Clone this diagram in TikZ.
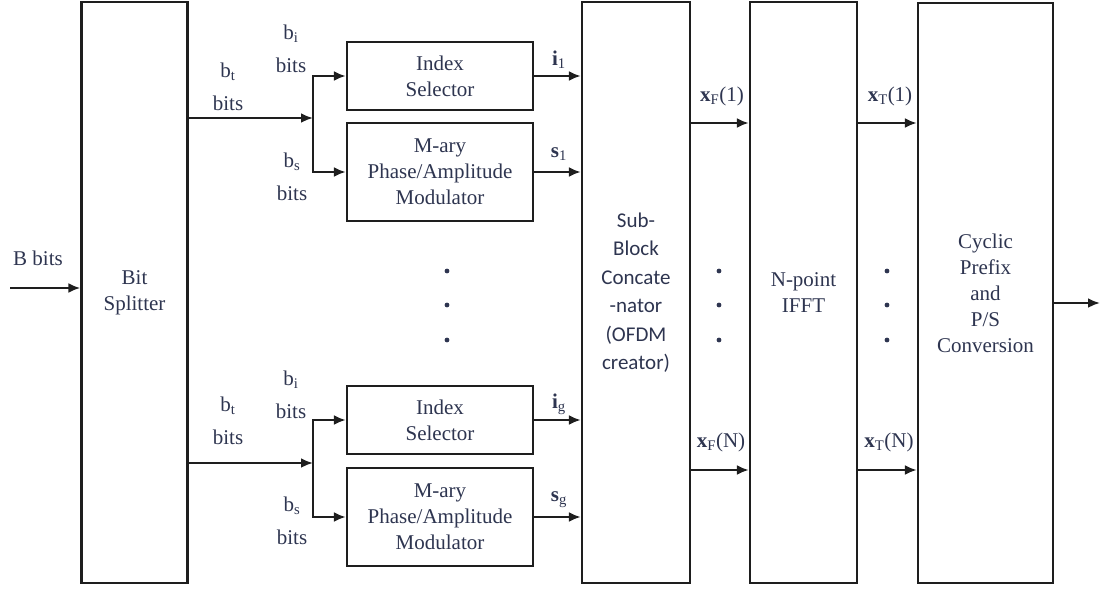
\documentclass[tikz,border=0pt]{standalone}
\usepackage{fontspec}
\setmainfont{Liberation Serif}
\newfontfamily\tms{Liberation Serif}
\newfontfamily\calib{Carlito}
\usetikzlibrary{arrows.meta}
\definecolor{txt}{HTML}{2E3550}
\definecolor{ln}{HTML}{1E1E1E}
\tikzset{
  blk/.style={draw=ln, line width=2.2pt, fill=white, align=center, text=txt,
    font=\tms\fontsize{21}{26}\selectfont, inner sep=0pt},
  arr/.style={draw=ln, line width=2.6pt, -{Latex[length=12pt,width=10pt]}},
  lbl/.style={text=txt, align=center, font=\tms\fontsize{21}{33}\selectfont, inner sep=0pt},
  dotn/.style={circle, fill=txt, inner sep=1.7pt},
}
\begin{document}
\begin{tikzpicture}[x=1pt,y=-1pt]
\useasboundingbox (0,0) rectangle (1101,590);
% boxes
\node[blk, minimum width=106pt, minimum height=581pt] (split) at (134.5,292.5) {Bit\\Splitter};
\node[blk, minimum width=186pt, minimum height=68pt] (idx1) at (440,76) {Index\\Selector};
\node[blk, minimum width=186pt, minimum height=98pt] (mod1) at (440,172) {M-ary\\Phase/Amplitude\\Modulator};
\node[blk, minimum width=186pt, minimum height=68pt] (idx2) at (440,420) {Index\\Selector};
\node[blk, minimum width=186pt, minimum height=98pt] (mod2) at (440,517) {M-ary\\Phase/Amplitude\\Modulator};
\node[blk, minimum width=108pt, minimum height=581pt, font=\calib\fontsize{21}{28.5}\selectfont] (conc) at (636,292.5) {Sub-\\Block\\Concate\\-nator\\(OFDM\\creator)};
\node[blk, minimum width=107pt, minimum height=581pt] (ifft) at (803.5,292.5) {N-point\\IFFT};
\node[blk, minimum width=135pt, minimum height=580pt] (cyc) at (985.5,293) {Cyclic\\Prefix\\and\\P/S\\Conversion};
% coordinates
\coordinate (in) at (10,288);
\coordinate (j1) at (313,118);
\coordinate (j2) at (313,463);
\coordinate (f1) at (691,123);
\coordinate (fN) at (691,470);
\coordinate (out) at (1100,303);
% connectors
\draw[arr] (in) -- (split.west |- in);
\draw[arr] (split.east |- j1) -- (j1);
\draw[arr] (j1) |- (idx1.west);
\draw[arr] (j1) |- (mod1.west);
\draw[arr] (split.east |- j2) -- (j2);
\draw[arr] (j2) |- (idx2.west);
\draw[arr] (j2) |- (mod2.west);
\draw[arr] (idx1.east) -- (idx1.east -| conc.west);
\draw[arr] (mod1.east) -- (mod1.east -| conc.west);
\draw[arr] (idx2.east) -- (idx2.east -| conc.west);
\draw[arr] (mod2.east) -- (mod2.east -| conc.west);
\draw[arr] (conc.east |- f1) -- (ifft.west |- f1);
\draw[arr] (conc.east |- fN) -- (ifft.west |- fN);
\draw[arr] (ifft.east |- f1) -- (cyc.west |- f1);
\draw[arr] (ifft.east |- fN) -- (cyc.west |- fN);
\draw[arr] (cyc.east |- out) -- (out);
% labels
\node[lbl] (lB) at (38,258) {B bits};
\node[lbl] (lbt1) at (228,87) {b\textsubscript{t}\\bits};
\node[lbl] (lbi1) at (291,49) {b\textsubscript{i}\\bits};
\node[lbl] (lbs1) at (292,177) {b\textsubscript{s}\\bits};
\node[lbl] (lbt2) at (228,421) {b\textsubscript{t}\\bits};
\node[lbl] (lbi2) at (291,395) {b\textsubscript{i}\\bits};
\node[lbl] (lbs2) at (292,521) {b\textsubscript{s}\\bits};
\node[lbl] (li1) at (559,60) {\textbf{i}\textsubscript{1}};
\node[lbl] (ls1) at (559,154) {\textbf{s}\textsubscript{1}};
\node[lbl] (lig) at (559,404) {\textbf{i}\textsubscript{g}};
\node[lbl] (lsg) at (559,500) {\textbf{s}\textsubscript{g}};
\node[lbl] (lxf1) at (722,96) {\textbf{x}\textsubscript{F}(1)};
\node[lbl] (lxfN) at (721,442) {\textbf{x}\textsubscript{F}(N)};
\node[lbl] (lxt1) at (890,96) {\textbf{x}\textsubscript{T}(1)};
\node[lbl] (lxtN) at (889,442) {\textbf{x}\textsubscript{T}(N)};
% dots
\foreach \i/\y in {a/271,b/305,c/340}{
  \node[dotn] (dm\i) at (447,\y) {};
  \node[dotn] (df\i) at (719,\y) {};
  \node[dotn] (dt\i) at (887,\y) {};
}
\end{tikzpicture}
\end{document}
